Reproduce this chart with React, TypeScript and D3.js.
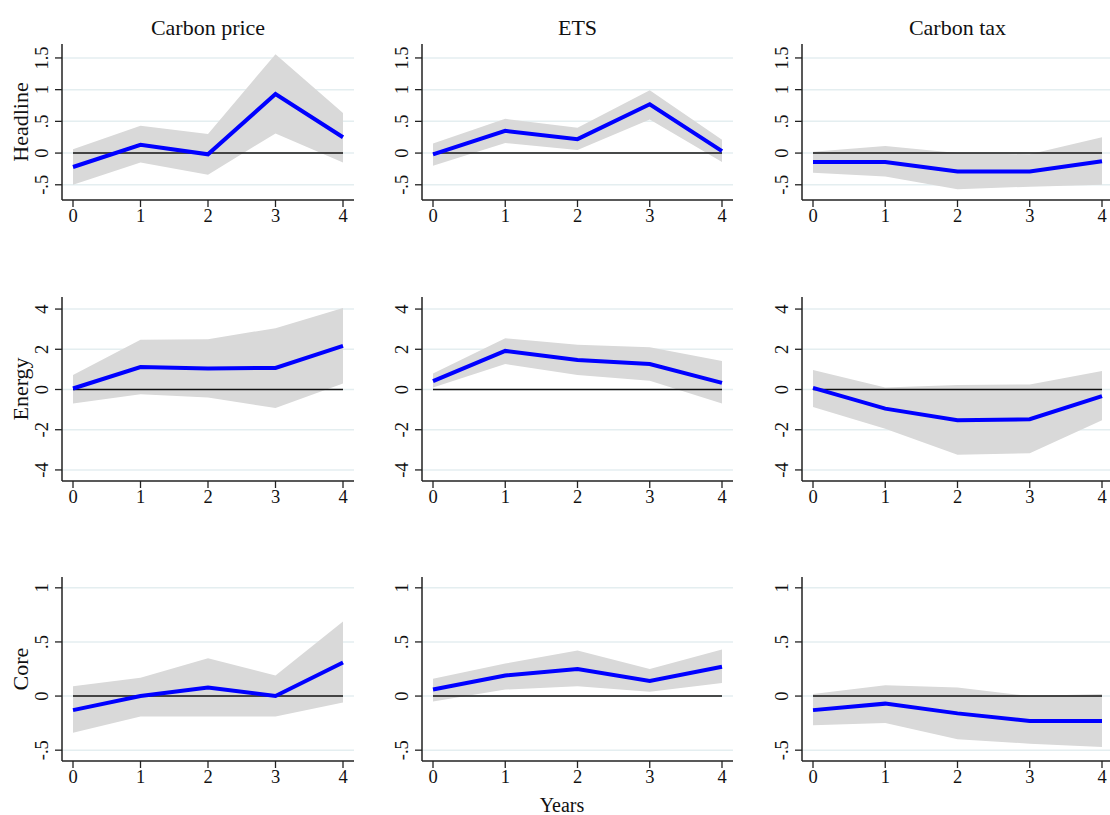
import React from "react";
import * as d3 from "d3";

// 3x3 grid of impulse responses (estimate + confidence band), Stata-like styling.

const years = [0, 1, 2, 3, 4];
const columnTitles = ["Carbon price", "ETS", "Carbon tax"];
const rowTitles = ["Headline", "Energy", "Core"];

// one inner array per column: Carbon price, ETS, Carbon tax
const headlineEst = [
  [-0.22, 0.13, -0.02, 0.93, 0.25],
  [-0.02, 0.35, 0.22, 0.77, 0.03],
  [-0.14, -0.14, -0.29, -0.29, -0.13],
];
const headlineLo = [
  [-0.5, -0.15, -0.34, 0.31, -0.15],
  [-0.2, 0.16, 0.05, 0.53, -0.14],
  [-0.31, -0.37, -0.57, -0.53, -0.5],
];
const headlineHi = [
  [0.06, 0.43, 0.3, 1.56, 0.63],
  [0.15, 0.54, 0.4, 0.99, 0.21],
  [0.02, 0.11, 0.0, -0.02, 0.25],
];

const energyEst = [
  [0.05, 1.12, 1.05, 1.07, 2.17],
  [0.42, 1.92, 1.47, 1.27, 0.33],
  [0.08, -0.95, -1.53, -1.48, -0.33],
];
const energyLo = [
  [-0.7, -0.23, -0.4, -0.92, 0.3],
  [0.1, 1.27, 0.72, 0.43, -0.7],
  [-0.87, -1.95, -3.25, -3.17, -1.53],
];
const energyHi = [
  [0.72, 2.47, 2.5, 3.05, 4.05],
  [0.8, 2.55, 2.22, 2.1, 1.42],
  [0.97, 0.1, 0.22, 0.25, 0.92],
];

const coreEst = [
  [-0.13, 0.0, 0.08, 0.0, 0.31],
  [0.06, 0.19, 0.25, 0.14, 0.27],
  [-0.13, -0.07, -0.16, -0.23, -0.23],
];
const coreLo = [
  [-0.34, -0.19, -0.19, -0.19, -0.06],
  [-0.05, 0.06, 0.09, 0.04, 0.12],
  [-0.27, -0.25, -0.4, -0.44, -0.47],
];
const coreHi = [
  [0.09, 0.17, 0.35, 0.19, 0.69],
  [0.16, 0.3, 0.42, 0.25, 0.43],
  [0.02, 0.1, 0.08, 0.0, 0.02],
];

const headlineTicks = [-0.5, 0, 0.5, 1, 1.5];
const energyTicks = [-4, -2, 0, 2, 4];
const coreTicks = [-0.5, 0, 0.5, 1];

const rowData = [
  { est: headlineEst, lo: headlineLo, hi: headlineHi, ticks: headlineTicks, domain: [-0.74, 1.72] },
  { est: energyEst, lo: energyLo, hi: energyHi, ticks: energyTicks, domain: [-4.55, 4.6] },
  { est: coreEst, lo: coreLo, hi: coreHi, ticks: coreTicks, domain: [-0.6, 1.1] },
];

// layout
const W = 1110;
const H = 815;
const colLeft = [62, 422, 802];
const colRight = [354, 733, 1113];
const rowTop = [44, 297, 577];
const rowBottom = [200, 481, 761];
const xPad = 11;

const FONT = "'Liberation Serif', 'Times New Roman', serif";
const axisColor = "#222";
const gridColor = "#e4eef0";
const bandColor = "#d9d9d9";
const lineColor = "#0000ff";

const fmt = (v: number) => (v === 0 ? "0" : String(v).replace(/^(-?)0\./, "$1."));

function Panel({ r, c }: { r: number; c: number }) {
  const rd = rowData[r];
  const x = d3
    .scaleLinear()
    .domain([0, 4])
    .range([colLeft[c] + xPad, colRight[c] - xPad]);
  const y = d3.scaleLinear().domain(rd.domain).range([rowBottom[r], rowTop[r]]);

  const pts = years.map((yr, i) => ({
    yr,
    est: rd.est[c][i],
    lo: rd.lo[c][i],
    hi: rd.hi[c][i],
  }));

  const area = d3
    .area<any>()
    .x((d) => x(d.yr))
    .y0((d) => y(d.lo))
    .y1((d) => y(d.hi));
  const line = d3
    .line<any>()
    .x((d) => x(d.yr))
    .y((d) => y(d.est));

  const x0 = colLeft[c];
  const x1 = colRight[c];
  const yb = rowBottom[r];

  return (
    <g>
      {rd.ticks.map((t) => (
        <line key={"g" + t} x1={x0} x2={x1} y1={y(t)} y2={y(t)} stroke={gridColor} strokeWidth={1.5} />
      ))}
      <path d={area(pts) || ""} fill={bandColor} />
      <line x1={x(0)} x2={x(4)} y1={y(0)} y2={y(0)} stroke="#111" strokeWidth={1.5} />
      <path d={line(pts) || ""} fill="none" stroke={lineColor} strokeWidth={4} strokeLinejoin="miter" />
      {/* y axis */}
      <line x1={x0} x2={x0} y1={rowTop[r]} y2={yb} stroke={axisColor} strokeWidth={1.5} />
      {rd.ticks.map((t) => (
        <g key={"t" + t}>
          <line x1={x0 - 7} x2={x0} y1={y(t)} y2={y(t)} stroke={axisColor} strokeWidth={1.3} />
          <text
            transform={`translate(${x0 - 14},${y(t)}) rotate(-90)`}
            textAnchor="middle"
            fontSize={18.5}
            fontFamily={FONT}
            fill="#111"
          >
            {fmt(t)}
          </text>
        </g>
      ))}
      {/* x axis */}
      <line x1={x0} x2={x1} y1={yb} y2={yb} stroke={axisColor} strokeWidth={1.5} />
      {years.map((yr) => (
        <g key={"x" + yr}>
          <line x1={x(yr)} x2={x(yr)} y1={yb} y2={yb + 7} stroke={axisColor} strokeWidth={1.3} />
          <text x={x(yr)} y={yb + 22} textAnchor="middle" fontSize={18.5} fontFamily={FONT} fill="#111">
            {yr}
          </text>
        </g>
      ))}
    </g>
  );
}

export default function App() {
  return (
    <svg
      width={W}
      height={H}
      style={{ position: "absolute", left: 0, top: 0, background: "#fff" }}
    >
      <rect width={W} height={H} fill="#fff" />
      {columnTitles.map((t, c) => (
        <text
          key={t}
          x={(colLeft[c] + colRight[c]) / 2}
          y={35}
          textAnchor="middle"
          fontSize={22}
          fontFamily={FONT}
          fill="#111"
        >
          {t}
        </text>
      ))}
      {rowTitles.map((t, r) => (
        <text
          key={t}
          transform={`translate(28,${(rowTop[r] + rowBottom[r]) / 2}) rotate(-90)`}
          textAnchor="middle"
          fontSize={22}
          fontFamily={FONT}
          fill="#111"
        >
          {t}
        </text>
      ))}
      {rowTitles.map((_, r) => columnTitles.map((__, c) => <Panel key={r + "-" + c} r={r} c={c} />))}
      <text x={562} y={812} textAnchor="middle" fontSize={20} fontFamily={FONT} fill="#111">
        Years
      </text>
    </svg>
  );
}
